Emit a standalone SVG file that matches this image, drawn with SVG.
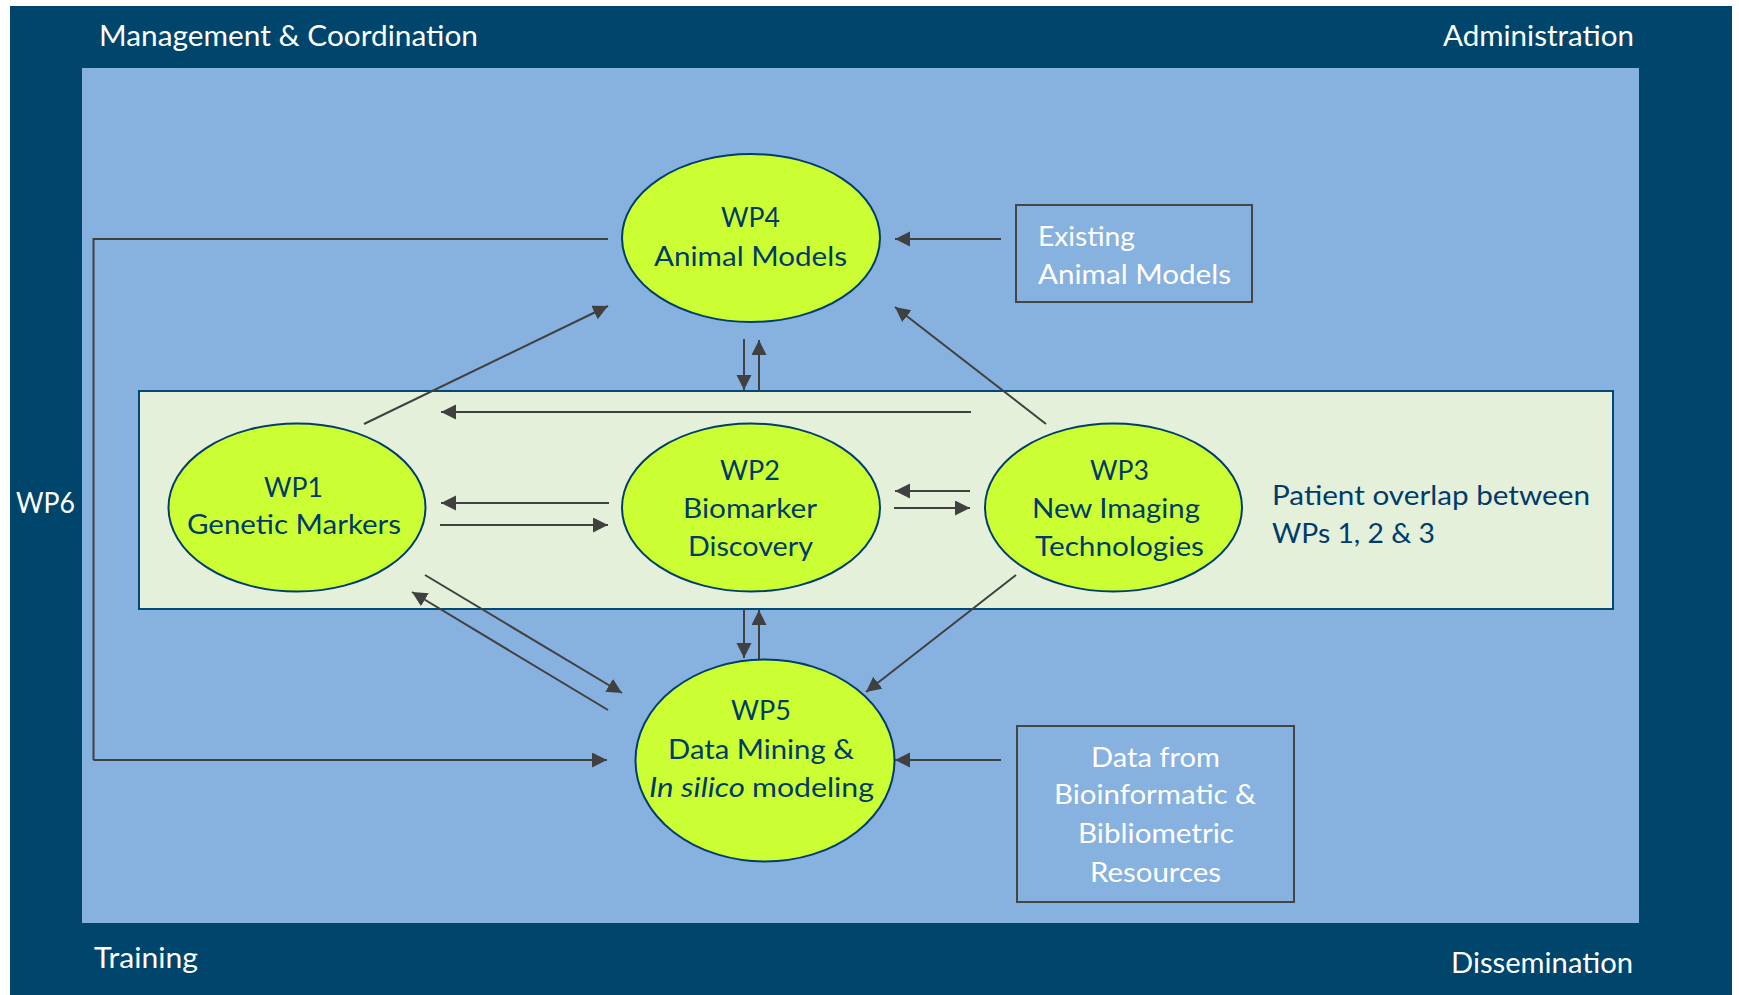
<svg xmlns="http://www.w3.org/2000/svg" width="1739" height="995" viewBox="0 0 1739 995">
<style>
.t{font-family:Lato,"Open Sans","Liberation Sans",sans-serif;font-size:27px}
.w{fill:#ffffff}
.n{fill:#003B6A}
.ell{fill:#CCFF33;stroke:#003E6E;stroke-width:2}
.box{fill:none;stroke:#454545;stroke-width:2}
.c{fill:none;stroke:#404040;stroke-width:2;marker-end:url(#ah)}
.p{fill:none;stroke:#404040;stroke-width:2}
</style>
<defs>
<marker id="ah" markerUnits="userSpaceOnUse" markerWidth="16" markerHeight="16" refX="15" refY="7.5" orient="auto">
<path d="M0,0 L15,7.5 L0,15 z" fill="#404040"/>
</marker>
</defs>
<g id="frame">
<rect x="10" y="6" width="1722" height="989" fill="#00456B"/>
<rect x="82" y="68" width="1557" height="855" fill="#87B1DF"/>
<text class="t w" x="99" y="46" textLength="379" lengthAdjust="spacingAndGlyphs" style="font-size:29px">Management &amp; Coordination</text>
<text class="t w" x="1443" y="46" textLength="191" lengthAdjust="spacingAndGlyphs" style="font-size:29px">Administration</text>
<text class="t w" x="94" y="968" textLength="104" lengthAdjust="spacingAndGlyphs" style="font-size:29px">Training</text>
<text class="t w" x="1451" y="973" textLength="182" lengthAdjust="spacingAndGlyphs" style="font-size:29px">Dissemination</text>
<text class="t w" x="16" y="513" textLength="59" lengthAdjust="spacingAndGlyphs" style="font-size:28px">WP6</text>
</g>
<g id="overlap">
<rect x="139" y="391" width="1474" height="218" fill="#E4F0D9" stroke="#004A75" stroke-width="2"/>
<text class="t n" x="1272" y="505" textLength="318" lengthAdjust="spacingAndGlyphs">Patient overlap between</text>
<text class="t n" x="1272" y="543" textLength="163" lengthAdjust="spacingAndGlyphs">WPs 1, 2 &amp; 3</text>
</g>
<g id="connectors">
<polyline class="p" points="608,239 93.5,239 93.5,760"/>
<line class="c" x1="93.5" y1="760" x2="607" y2="760"/>
<line class="c" x1="1001" y1="239" x2="895" y2="239"/>
<line class="c" x1="1001" y1="760" x2="895" y2="760"/>
<line class="c" x1="744" y1="339" x2="744" y2="390"/>
<line class="c" x1="759" y1="391" x2="759" y2="340"/>
<line class="c" x1="364" y1="424" x2="608" y2="306"/>
<line class="c" x1="1046" y1="424" x2="895" y2="307"/>
<line class="c" x1="971" y1="412" x2="441" y2="412"/>
<line class="c" x1="609" y1="503" x2="441" y2="503"/>
<line class="c" x1="440" y1="525" x2="608" y2="525"/>
<line class="c" x1="970" y1="491" x2="895" y2="491"/>
<line class="c" x1="894" y1="508" x2="970" y2="508"/>
<line class="c" x1="744" y1="610" x2="744" y2="658"/>
<line class="c" x1="759" y1="659" x2="759" y2="610"/>
<line class="c" x1="425" y1="575" x2="622" y2="693"/>
<line class="c" x1="608" y1="710" x2="412" y2="592"/>
<line class="c" x1="1016" y1="575" x2="866" y2="692"/>
</g>
<g id="wp4">
<ellipse class="ell" cx="751" cy="238" rx="129" ry="84"/>
<text class="t n" x="721" y="227" textLength="59" lengthAdjust="spacingAndGlyphs">WP4</text>
<text class="t n" x="654" y="266" textLength="193" lengthAdjust="spacingAndGlyphs">Animal Models</text>
</g>
<g id="wp1">
<ellipse class="ell" cx="297" cy="507.5" rx="128.5" ry="84"/>
<text class="t n" x="264" y="497" textLength="59" lengthAdjust="spacingAndGlyphs">WP1</text>
<text class="t n" x="187" y="534" textLength="214" lengthAdjust="spacingAndGlyphs">Genetic Markers</text>
</g>
<g id="wp2">
<ellipse class="ell" cx="751" cy="507.5" rx="129" ry="84"/>
<text class="t n" x="720" y="480" textLength="60" lengthAdjust="spacingAndGlyphs">WP2</text>
<text class="t n" x="683" y="518" textLength="134" lengthAdjust="spacingAndGlyphs">Biomarker</text>
<text class="t n" x="688" y="556" textLength="125" lengthAdjust="spacingAndGlyphs">Discovery</text>
</g>
<g id="wp3">
<ellipse class="ell" cx="1113.5" cy="507.5" rx="128.5" ry="84"/>
<text class="t n" x="1090" y="480" textLength="59" lengthAdjust="spacingAndGlyphs">WP3</text>
<text class="t n" x="1032" y="518" textLength="168" lengthAdjust="spacingAndGlyphs">New Imaging</text>
<text class="t n" x="1035" y="556" textLength="169" lengthAdjust="spacingAndGlyphs">Technologies</text>
</g>
<g id="wp5">
<ellipse class="ell" cx="765" cy="760.5" rx="129.5" ry="101"/>
<text class="t n" x="731" y="720" textLength="60" lengthAdjust="spacingAndGlyphs">WP5</text>
<text class="t n" x="668" y="759" textLength="186" lengthAdjust="spacingAndGlyphs">Data Mining &amp;</text>
<text class="t n" x="649" y="797"><tspan font-style="italic" textLength="96" lengthAdjust="spacingAndGlyphs">In silico</tspan><tspan x="752" textLength="122" lengthAdjust="spacingAndGlyphs">modeling</tspan></text>
</g>
<g id="existing">
<rect class="box" x="1016" y="205" width="236" height="97"/>
<text class="t w" x="1038" y="246" textLength="97" lengthAdjust="spacingAndGlyphs">Existing</text>
<text class="t w" x="1038" y="284" textLength="193" lengthAdjust="spacingAndGlyphs">Animal Models</text>
</g>
<g id="data">
<rect class="box" x="1017" y="726" width="277" height="176"/>
<text class="t w" x="1091" y="767" textLength="129" lengthAdjust="spacingAndGlyphs">Data from</text>
<text class="t w" x="1054" y="804" textLength="202" lengthAdjust="spacingAndGlyphs">Bioinformatic &amp;</text>
<text class="t w" x="1078" y="843" textLength="156" lengthAdjust="spacingAndGlyphs">Bibliometric</text>
<text class="t w" x="1090" y="882" textLength="131" lengthAdjust="spacingAndGlyphs">Resources</text>
</g>
</svg>
